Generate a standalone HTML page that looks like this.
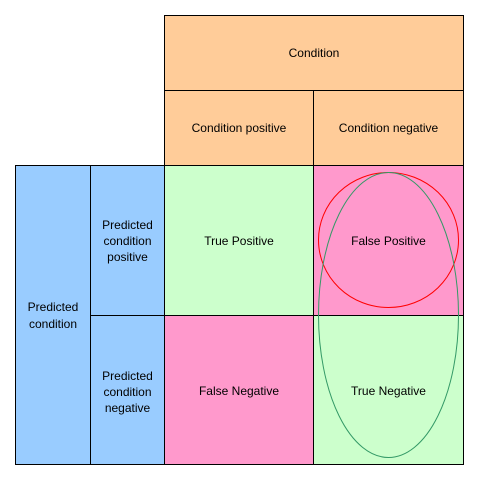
<!DOCTYPE html>
<html><head><style>body{margin:0;background:#fff}svg{display:block}</style></head><body>
<svg width="479" height="480" xmlns="http://www.w3.org/2000/svg" font-family="Liberation Sans, sans-serif" font-size="12" text-anchor="middle" fill="#000">
<g stroke="#000" stroke-width="1">
<rect x="164.5" y="15.5" width="299" height="75" fill="#FFCC99"/>
<rect x="164.5" y="90.5" width="149" height="75" fill="#FFCC99"/>
<rect x="313.5" y="90.5" width="150" height="75" fill="#FFCC99"/>
<rect x="15.5" y="165.5" width="75" height="299" fill="#99CCFF"/>
<rect x="90.5" y="165.5" width="74" height="150" fill="#99CCFF"/>
<rect x="90.5" y="315.5" width="74" height="149" fill="#99CCFF"/>
<rect x="164.5" y="165.5" width="149" height="150" fill="#CCFFCC"/>
<rect x="313.5" y="165.5" width="150" height="150" fill="#FF99CC"/>
<rect x="164.5" y="315.5" width="149" height="149" fill="#FF99CC"/>
<rect x="313.5" y="315.5" width="150" height="149" fill="#CCFFCC"/>
</g>
<ellipse cx="388.5" cy="240" rx="70" ry="67.5" fill="none" stroke="#FF0000" stroke-width="1"/>
<ellipse cx="388.5" cy="315" rx="70" ry="142.5" fill="none" stroke="#339966" stroke-width="1"/>
<text x="314" y="57">Condition</text>
<text x="239" y="132">Condition positive</text>
<text x="388.5" y="132">Condition negative</text>
<text x="53" y="311">Predicted</text>
<text x="53" y="328">condition</text>
<text x="127.5" y="229">Predicted</text>
<text x="127.5" y="245">condition</text>
<text x="127.5" y="261">positive</text>
<text x="127.5" y="380">Predicted</text>
<text x="127.5" y="396">condition</text>
<text x="127.5" y="412">negative</text>
<text x="239" y="245">True Positive</text>
<text x="388.5" y="245">False Positive</text>
<text x="239" y="395">False Negative</text>
<text x="388.5" y="395">True Negative</text>
</svg>
</body></html>
